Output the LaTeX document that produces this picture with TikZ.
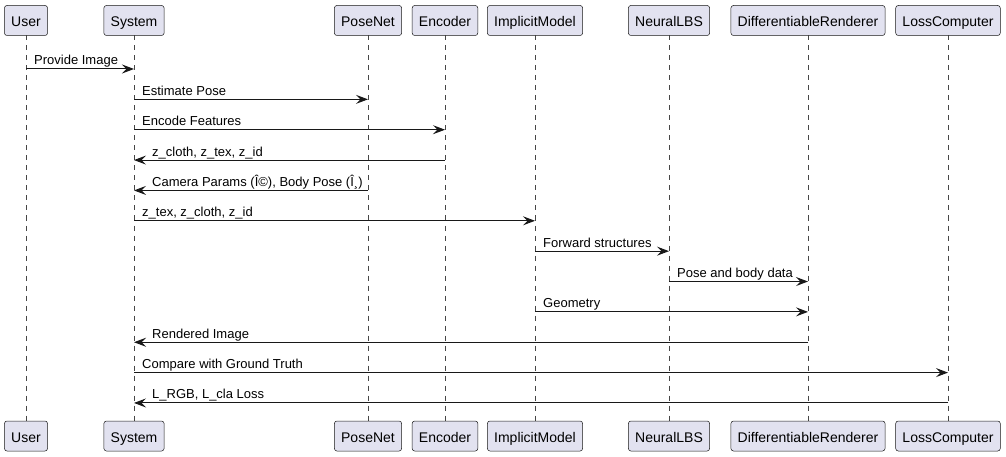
\documentclass[tikz,border=0pt]{standalone}
\usepackage{fontspec}
\setmainfont{Liberation Sans}
\usetikzlibrary{arrows.meta}
\definecolor{boxfill}{HTML}{E2E2F0}
\definecolor{ink}{HTML}{181818}
\begin{document}
\begin{tikzpicture}[x=1pt,y=-1pt,
  participant/.style={draw=ink, fill=boxfill, line width=0.5pt, rounded corners=2.5pt,
    inner xsep=6.75pt, inner ysep=0pt, minimum height=30pt, text height=13.5pt, text depth=1pt,
    font=\fontsize{14}{16}\selectfont},
  lifeline/.style={ink!80, line width=0.5pt, dash pattern=on 5pt off 5pt},
  msg/.style={ink, line width=1pt, -{Stealth[length=12pt,width=9pt,inset=4.5pt]}},
  lbl/.style={anchor=base west, inner sep=0pt, font=\fontsize{13}{15}\selectfont}]
\useasboundingbox (0,0) rectangle (1006,457);
% participants
\foreach \n/\x/\t in {u/26/User, s/134/System, p/368/PoseNet, e/445/Encoder,
  im/535/ImplicitModel, nl/669/NeuralLBS, dr/808/DifferentiableRenderer, lc/948/LossComputer}{
  \draw[lifeline] (\x,35.5) -- (\x,420.5);
  \node[participant] (\n T) at (\x,20.5) {\t};
  \node[participant] (\n B) at (\x,436) {\t};
}
% message rows
\foreach \i in {1,...,12}{
  \coordinate (m\i) at (0,{69+30.36*(\i-1)});
}
% messages
\draw[msg] (uT |- m1) -- (sT |- m1);
\node[lbl] (l1) at ([xshift=8pt,yshift=4pt]uT |- m1) {Provide Image};
\draw[msg] (sT |- m2) -- (pT |- m2);
\node[lbl] (l2) at ([xshift=8pt,yshift=4pt]sT |- m2) {Estimate Pose};
\draw[msg] (sT |- m3) -- (eT |- m3);
\node[lbl] (l3) at ([xshift=8pt,yshift=4pt]sT |- m3) {Encode Features};
\draw[msg] (eT |- m4) -- (sT |- m4);
\node[lbl] (l4) at ([xshift=18pt,yshift=4pt]sT |- m4) {z\_cloth, z\_tex, z\_id};
\draw[msg] (pT |- m5) -- (sT |- m5);
\node[lbl] (l5) at ([xshift=18pt,yshift=4pt]sT |- m5) {Camera Params (Î©), Body Pose (Î¸)};
\draw[msg] (sT |- m6) -- (imT |- m6);
\node[lbl] (l6) at ([xshift=8pt,yshift=4pt]sT |- m6) {z\_tex, z\_cloth, z\_id};
\draw[msg] (imT |- m7) -- (nlT |- m7);
\node[lbl] (l7) at ([xshift=8pt,yshift=4pt]imT |- m7) {Forward structures};
\draw[msg] (nlT |- m8) -- (drT |- m8);
\node[lbl] (l8) at ([xshift=8pt,yshift=4pt]nlT |- m8) {Pose and body data};
\draw[msg] (imT |- m9) -- (drT |- m9);
\node[lbl] (l9) at ([xshift=8pt,yshift=4pt]imT |- m9) {Geometry};
\draw[msg] (drT |- m10) -- (sT |- m10);
\node[lbl] (l10) at ([xshift=18pt,yshift=4pt]sT |- m10) {Rendered Image};
\draw[msg] (sT |- m11) -- (lcT |- m11);
\node[lbl] (l11) at ([xshift=8pt,yshift=4pt]sT |- m11) {Compare with Ground Truth};
\draw[msg] (lcT |- m12) -- (sT |- m12);
\node[lbl] (l12) at ([xshift=18pt,yshift=4pt]sT |- m12) {L\_RGB, L\_cla Loss};
\end{tikzpicture}
\end{document}
